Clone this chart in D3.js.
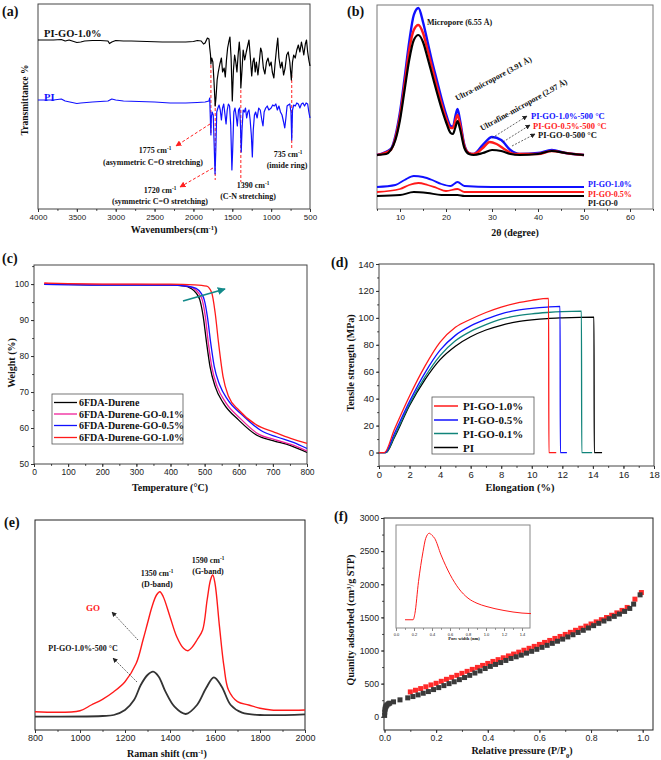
<!DOCTYPE html>
<html><head><meta charset="utf-8">
<script src="https://cdn.jsdelivr.net/npm/d3@7"></script>
<style>body{margin:0;background:#fff}svg text{font-family:'Liberation Serif','Times New Roman',serif;font-weight:bold}</style>
</head><body>
<svg id="fig" width="661" height="760"></svg>
<script>
// ---------------- (a) FTIR, transmittance a.u. ----------------
var ftirGO=[[4000,169],[3800,169],[3700,169.5],[3650,168],[3600,169],[3500,166.5],[3450,167],[3400,168],[3300,168.5],[3200,168.5],[3100,168],[3080,165.5],[3050,167],[3000,168.5],[2900,168],[2800,168],[2600,167.5],[2400,167],[2200,167],[2100,167],[2000,167.5],[1950,168.5],[1900,168],[1870,165],[1850,166],[1820,171],[1800,170],[1790,161],[1780,154],[1775,145],[1765,151],[1750,147],[1735,127],[1720,103],[1710,111],[1695,129],[1680,137],[1660,145],[1640,151],[1625,137],[1605,141],[1590,132],[1575,149],[1560,161],[1545,167],[1530,172],[1515,151],[1500,108],[1485,139],[1470,154],[1455,147],[1440,137],[1425,154],[1410,167],[1400,157],[1390,121],[1375,139],[1360,159],[1340,149],[1320,157],[1300,164],[1285,169],[1270,154],[1250,133],[1235,147],[1220,151],[1205,137],[1190,147],[1170,134],[1150,149],[1135,161],[1120,157],[1100,141],[1080,135],[1060,147],[1040,151],[1020,143],[1000,147],[985,137],[965,131],[950,145],[930,161],[915,171],[900,151],[880,141],[860,147],[840,134],[820,141],[800,154],[780,157],[760,147],[740,129],[725,147],[710,154],[690,151],[670,159],[650,164],[630,157],[610,167],[595,161],[580,154],[560,165],[545,169],[530,157],[515,149],[500,143]];
var ftirPI=[[4000,109],[3800,109],[3700,110],[3650,108],[3500,105.5],[3450,106],[3300,107],[3100,108],[3050,110],[3000,109],[2900,108],[2700,107.5],[2500,107],[2300,106],[2100,106],[1950,106.5],[1850,107],[1800,108],[1790,111],[1785,97],[1775,74],[1770,91],[1760,97],[1745,94],[1735,69],[1722,35],[1712,59],[1700,97],[1685,101],[1670,104],[1655,99],[1640,89],[1625,101],[1610,105],[1595,95],[1580,85],[1565,99],[1550,105],[1535,103],[1520,84],[1505,39],[1495,59],[1480,97],[1465,101],[1450,93],[1435,83],[1420,99],[1405,101],[1395,84],[1385,57],[1375,79],[1360,99],[1345,97],[1330,101],[1315,91],[1300,97],[1285,99],[1270,89],[1255,74],[1242,52],[1230,79],[1215,94],[1200,97],[1180,91],[1160,101],[1140,99],[1120,89],[1105,83],[1090,97],[1070,101],[1050,103],[1030,99],[1000,101],[980,104],[960,103],[940,105],[920,99],[900,103],[880,97],[860,94],[840,87],[825,81],[810,91],[795,103],[780,104],[760,105],[745,97],[735,69],[725,99],[710,104],[690,103],[670,106],[650,105],[630,101],[610,105],[590,106],[570,103],[550,106],[530,105],[515,97],[500,91]];
var ftirMarks=[[1775,144,76],[1720,106,29],[1390,119,27],[735,134,61]];

// ---------------- (b) XRD, intensity a.u. ----------------
var xrdGO10c=[[5,54],[8,60],[9,73],[10,97],[11,131],[12,167],[13,194],[14,201],[15,187],[16,167],[17,147],[18,129],[19,111],[20,95],[21,83],[21.5,82],[22,92],[22.5,100],[23,90],[24,64],[25,56],[26,55],[28,64],[30,72],[32,69],[34,59],[36,55],[40,56],[43,59],[46,56],[50,54]];
var xrdGO05c=[[5,54],[8,59],[9,71],[10,93],[11,125],[12,159],[13,179],[14,184],[15,176],[16,159],[17,141],[18,123],[19,106],[20,91],[21,81],[21.5,81],[22,88],[22.5,94],[23,86],[24,63],[25,56],[26,55],[28,61],[29.5,67],[31,65],[33,59],[35,55],[40,55],[43,58],[46,56],[50,54]];
var xrdGO0c=[[5,54],[7,55],[8,59],[9,69],[10,89],[11,119],[12,149],[13,169],[14,174],[15,167],[16,151],[17,134],[18,117],[19,101],[20,87],[21,76],[21.5,75],[22,81],[22.5,88],[23,81],[24,61],[25,55],[26,54],[28,56],[30,59],[32,58],[34,55],[36,54],[40,55],[43,58],[46,56],[50,54]];
var xrdGO10=[[5,22],[9,24],[11,29],[13,33],[15,32],[17,29],[19,25],[21,23],[22.5,27],[24,23],[30,22],[50,22]];
var xrdGO05=[[5,17],[10,20],[12,24],[14,26],[16,24],[18,21],[20,18],[22.5,20],[24,17],[50,17]];
var xrdGO0=[[5,13],[10,14],[13,17],[16,16],[19,14],[22.5,14],[24,13],[50,13]];

// ---------------- (c) TGA ----------------
var tgaNames=['6FDA-Durene','6FDA-Durene-GO-0.1%','6FDA-Durene-GO-0.5%','6FDA-Durene-GO-1.0%'];
var tgaColors=['#000000','#f0209a','#1010ff','#ff1a1a'];
var tga0=[[30,100],[100,99.9],[200,99.8],[300,99.8],[400,99.7],[437,99.5],[460,98.8],[476,97.4],[486,95.6],[496,90.9],[506,83.5],[516,77],[531,71.5],[555,66.9],[600,62.2],[653,58],[700,56.5],[752,55.1],[800,53.2]];
var tga01=[[30,100.1],[100,100],[200,99.9],[300,99.9],[400,99.8],[445,99.5],[468,98.8],[483,97.4],[493,95.6],[502,91],[511,83.5],[521,77],[537,71.5],[561,67.2],[605,62.6],[658,58.3],[705,56.8],[755,55.4],[800,53.6]];
var tga05=[[30,99.9],[100,99.8],[200,99.7],[300,99.7],[400,99.7],[450,99.4],[475,98.8],[490,97.4],[499,95.6],[508,91],[518,83.5],[528,77.2],[544,72],[568,67.8],[612,63.5],[665,59.3],[712,57.5],[760,56],[800,54.3]];
var tga10=[[30,100.3],[100,100.1],[200,100],[300,100],[400,100],[470,99.8],[506,99.4],[521,97.5],[531,91.9],[541,83.5],[554,74.3],[570,68.8],[600,65],[653,60.8],[700,59],[752,57.1],[800,55.7]];

// ---------------- (d) tensile ----------------
var tenNames=['PI-GO-1.0%','PI-GO-0.5%','PI-GO-0.1%','PI'];
var tenColors=['#ff1a1a','#1010ff','#11847a','#000000'];
var ten10=[[0,0],[0.35,0],[1,17],[2,42],[3,64],[4,82],[5,93],[6,99],[7,104],[8,108],[9,111],[10,113],[11.1,114.5],[11.12,0],[11.6,0]];
var ten05=[[0,0],[0.4,0],[1,14],[2,38],[3,59],[4,76],[5,87],[6,94],[7,99],[8,103],[9,105.5],[10,107],[11,108],[11.85,108.5],[11.87,0],[12.3,0]];
var ten01=[[0,0],[0.45,0],[1,12],[2,36],[3,56],[4,72],[5,83],[6,90],[7,95],[8,99],[9,101.5],[10,103],[11,104],[12,104.7],[13.25,105],[13.27,0],[13.95,0]];
var tenPI=[[0,0],[0.45,0],[1,11],[2,35],[3,54],[4,69],[5,79],[6,86],[7,91],[8,94.5],[9,97],[10,98.5],[11,99.5],[12,100],[14.07,100.5],[14.09,0],[14.6,0]];

// ---------------- (e) Raman, intensity a.u. ----------------
var ramanGO=[[800,18.3],[1000,19.3],[1050,25],[1100,30.7],[1150,38.3],[1200,48.3],[1250,66.7],[1280,90],[1300,106.7],[1320,123.3],[1340,135],[1355,138.3],[1370,133.3],[1400,113.3],[1430,93.3],[1460,81.7],[1480,79.3],[1500,83.3],[1520,90],[1545,100],[1565,130],[1580,150],[1590,155],[1600,146.7],[1620,103.3],[1640,63.3],[1660,40],[1700,28.3],[1750,25],[1800,21.7],[1850,20],[2000,20]];
var ramanPIGO=[[800,13.3],[1100,14],[1150,15],[1200,20],[1240,30],[1270,45],[1300,55],[1325,58.3],[1350,53.3],[1380,38.3],[1420,23.3],[1470,16],[1520,25],[1560,41.7],[1595,52.7],[1630,43.3],[1670,25],[1720,17.3],[1800,15],[2000,15.7]];

// ---------------- (f) N2 isotherm ----------------
var isoAds=[[0.0005,20],[0.001,70],[0.002,105],[0.003,130],[0.005,150],[0.007,165],[0.01,180],[0.015,195],[0.02,205],[0.035,225],[0.06,255],[0.09,285],[0.11,305],[0.13,330],[0.15,355],[0.17,380],[0.19,410],[0.21,440],[0.23,470],[0.25,500],[0.27,528],[0.29,560],[0.31,592],[0.33,625],[0.35,660],[0.37,692],[0.39,728],[0.41,760],[0.43,790],[0.45,818],[0.47,850],[0.49,880],[0.51,905],[0.53,930],[0.55,960],[0.57,988],[0.59,1018],[0.61,1048],[0.63,1078],[0.65,1108],[0.67,1140],[0.69,1172],[0.71,1205],[0.73,1238],[0.75,1272],[0.77,1305],[0.79,1340],[0.81,1375],[0.83,1410],[0.85,1445],[0.87,1480],[0.89,1515],[0.91,1550],[0.93,1590],[0.95,1635],[0.965,1700],[0.99,1840]];
var isoDes=[[0.1,375],[0.12,400],[0.14,425],[0.16,452],[0.18,480],[0.2,505],[0.22,535],[0.24,565],[0.26,595],[0.28,625],[0.3,655],[0.32,685],[0.34,715],[0.36,745],[0.38,775],[0.4,805],[0.42,835],[0.44,862],[0.46,890],[0.48,918],[0.5,946],[0.52,975],[0.54,1004],[0.56,1033],[0.58,1062],[0.6,1092],[0.62,1122],[0.64,1152],[0.66,1182],[0.68,1212],[0.7,1243],[0.72,1274],[0.74,1305],[0.76,1336],[0.78,1368],[0.8,1400],[0.82,1432],[0.84,1465],[0.86,1498],[0.88,1532],[0.9,1568],[0.92,1605],[0.94,1650],[0.97,1775],[0.995,1875]];
var poreDist=[[0.1,0.08],[0.19,0.08],[0.21,0.14],[0.25,0.45],[0.3,0.74],[0.33,0.87],[0.37,0.92],[0.4,0.9],[0.43,0.87],[0.5,0.71],[0.6,0.52],[0.7,0.38],[0.8,0.29],[0.9,0.24],[1.0,0.21],[1.2,0.17],[1.4,0.145],[1.5,0.14]];

var svg=d3.select('#fig');
var defs=svg.append('defs');
function marker(id,color,w){
	defs.append('marker').attr('id',id).attr('viewBox','0 0 10 10').attr('refX',9).attr('refY',5)
		.attr('markerWidth',w).attr('markerHeight',w).attr('markerUnits','userSpaceOnUse').attr('orient','auto')
		.append('path').attr('d','M0,0L10,5L0,10z').attr('fill',color);
}
marker('arRed','#ff2020',6);
marker('arBlk','#222',5);
marker('arTeal','#138a8a',8);

function none(){return ''}
// frame + bottom/left axes
function axes(p){
	var g=svg.append('g');
	g.append('rect').attr('x',p.l).attr('y',p.t).attr('width',p.r-p.l).attr('height',p.b-p.t)
		.attr('fill','none').attr('stroke',p.frame||'#333').attr('stroke-width',1);
	g.append('g').attr('transform','translate(0,'+p.b+')')
		.call(d3.axisBottom(p.x).tickValues(p.xMaj).tickFormat(p.xFmt||d3.format('')).tickSize(3).tickPadding(2));
	if(p.xMin) g.append('g').attr('transform','translate(0,'+p.b+')')
		.call(d3.axisBottom(p.x).tickValues(p.xMin).tickFormat(none).tickSize(1.8));
	if(p.yMaj){
		g.append('g').attr('transform','translate('+p.l+',0)')
			.call(d3.axisLeft(p.y).tickValues(p.yMaj).tickFormat(p.yFmt||d3.format('')).tickSize(3).tickPadding(2));
		if(p.yMin) g.append('g').attr('transform','translate('+p.l+',0)')
			.call(d3.axisLeft(p.y).tickValues(p.yMin).tickFormat(none).tickSize(1.8));
	}
	g.selectAll('.domain').remove();
	g.selectAll('.tick line').attr('stroke','#333');
	g.selectAll('.tick text').attr('fill','#222').attr('font-size',p.fs||8.5)
		.style('font-family','"Liberation Sans",Arial,sans-serif').style('font-weight','normal');
	return g;
}
// text with optional ^sup|rest part
function txt(x,y,s,o){
	o=o||{};
	var t=svg.append('text').attr('x',x).attr('y',y).attr('font-size',o.fs||8)
		.attr('fill',o.fill||'#111').attr('text-anchor',o.anchor||'start');
	if(o.rot) t.attr('transform','rotate('+o.rot+','+x+','+y+')');
	var parts=s.split('^');
	t.append('tspan').text(parts[0]);
	if(parts.length>1){
		var sp=parts[1].split('|');
		t.append('tspan').attr('baseline-shift',o.sub?'sub':'super').attr('font-size',(o.fs||8)*0.65).text(sp[0]);
		if(sp[1]) t.append('tspan').text(sp[1]);
	}
	return t;
}
function arrow(x1,y1,x2,y2,color,mk,dash,w){
	svg.append('line').attr('x1',x1).attr('y1',y1).attr('x2',x2).attr('y2',y2)
		.attr('stroke',color).attr('stroke-width',w||0.8).attr('stroke-dasharray',dash||null)
		.attr('marker-end','url(#'+mk+')');
}
function path(data,xs,ys,color,w,curve){
	svg.append('path').datum(data).attr('fill','none').attr('stroke',color).attr('stroke-width',w)
		.attr('stroke-linejoin','round')
		.attr('d',d3.line().x(function(d){return xs(d[0])}).y(function(d){return ys(d[1])}).curve(curve||d3.curveLinear));
}

// ================= (a) =================
var aX=d3.scaleLinear().domain([4000,500]).range([38,310]);
var aY=d3.scaleLinear().domain([0,205]).range([209,4]);
axes({l:38,r:310,t:4,b:209,x:aX,xMaj:d3.range(4000,499,-500),xMin:d3.range(4000,499,-250),frame:'#444',fs:8});
ftirMarks.forEach(function(m){
	svg.append('line').attr('x1',aX(m[0])).attr('x2',aX(m[0])).attr('y1',aY(m[1])).attr('y2',aY(m[2]))
		.attr('stroke','#ff2020').attr('stroke-width',1).attr('stroke-dasharray','3,2');
});
path(ftirGO,aX,aY,'#000',1.2);
path(ftirPI,aX,aY,'#1010ff',1.2);
arrow(210,124,176,146,'#ff2020','arRed','3,2',1);
arrow(213,168,180,187,'#ff2020','arRed','3,2',1);
txt(44,37,'PI-GO-1.0%',{fs:10.5});
txt(44,101,'PI',{fs:10.5,fill:'#1010ff'});
txt(155,153,'1775 cm^-1',{fs:8,anchor:'middle'});
txt(153,165,'(asymmetric C=O stretching)',{fs:8,anchor:'middle'});
txt(160,193,'1720 cm^-1',{fs:8,anchor:'middle'});
txt(160,204,'(symmetric  C=O stretching)',{fs:8,anchor:'middle'});
txt(253,188,'1390 cm^-1',{fs:8,anchor:'middle'});
txt(248,199,'(C-N stretching)',{fs:8,anchor:'middle'});
txt(288,157,'735 cm^-1',{fs:8,anchor:'middle'});
txt(287,168,'(imide ring)',{fs:8,anchor:'middle'});
txt(174,233,'Wavenumbers(cm^-1|)',{fs:10,anchor:'middle'});
txt(28,100,'Transmittance %',{fs:9.5,anchor:'middle',rot:-90});
txt(2,16,'(a)',{fs:14});

// ================= (b) =================
var bX=d3.scaleLinear().domain([5,65]).range([377,653]);
var bY=d3.scaleLinear().domain([0,204]).range([209,5]);
axes({l:377,r:653,t:5,b:209,x:bX,xMaj:d3.range(10,61,10),xMin:d3.range(5,66,5),frame:'#777',fs:8});
path(xrdGO10c,bX,bY,'#1010ff',2.4,d3.curveMonotoneX);
path(xrdGO05c,bX,bY,'#ff1a1a',2.4,d3.curveMonotoneX);
path(xrdGO0c,bX,bY,'#000',2.2,d3.curveMonotoneX);
path(xrdGO10,bX,bY,'#1010ff',1.8,d3.curveMonotoneX);
path(xrdGO05,bX,bY,'#ff1a1a',1.8,d3.curveMonotoneX);
path(xrdGO0,bX,bY,'#000',1.8,d3.curveMonotoneX);
txt(427,25,'Micropore (6.55 Å)',{fs:8});
txt(457,101,'Ultra-micropore (3.91 Å)',{fs:8,rot:-28});
txt(482,131,'Ultrafine-micropore (2.97 Å)',{fs:8,rot:-29});
arrow(492,138,527,116,'#222','arBlk','2,1.5',0.7);
arrow(503,142,530,125,'#222','arBlk','2,1.5',0.7);
arrow(512,146,535,134,'#222','arBlk','2,1.5',0.7);
txt(531,119,'PI-GO-1.0%-500 °C',{fs:8.5,fill:'#1010ff'});
txt(533,129,'PI-GO-0.5%-500 °C',{fs:8.5,fill:'#ff1a1a'});
txt(538,138,'PI-GO-0-500 °C',{fs:8.5});
txt(588,187,'PI-GO-1.0%',{fs:8,fill:'#1010ff'});
txt(588,197,'PI-GO-0.5%',{fs:8,fill:'#ff1a1a'});
txt(588,206,'PI-GO-0',{fs:8});
txt(515,236,'2θ (degree)',{fs:10,anchor:'middle'});
txt(347,16,'(b)',{fs:14});

// ================= (c) =================
var cX=d3.scaleLinear().domain([0,800]).range([34,307]);
var cY=d3.scaleLinear().domain([50,105.3]).range([464,265]);
axes({l:34,r:307,t:265,b:464,x:cX,xMaj:d3.range(0,801,100),xMin:d3.range(0,801,50),
	y:cY,yMaj:d3.range(50,101,10),yMin:d3.range(50,106,5),frame:'#444',fs:8.5});
[tga0,tga01,tga05,tga10].forEach(function(s,i){path(s,cX,cY,tgaColors[i],1.3,d3.curveMonotoneX)});
arrow(183,301,225,289,'#138a8a','arTeal',null,1.8);
svg.append('rect').attr('x',52).attr('y',394).attr('width',131).attr('height',50)
	.attr('fill','#fff').attr('stroke','#555').attr('stroke-width',0.8);
tgaNames.forEach(function(n,i){
	var yy=[402.5,414,425.5,437.5][i];
	svg.append('line').attr('x1',54).attr('x2',77).attr('y1',yy).attr('y2',yy).attr('stroke',tgaColors[i]).attr('stroke-width',1.3);
	txt(79,yy+3.5,n,{fs:10});
});
txt(170,491,'Temperature (°C)',{fs:10,anchor:'middle'});
txt(15,363,'Weight (%)',{fs:10,anchor:'middle',rot:-90});
txt(2,263,'(c)',{fs:14});

// ================= (d) =================
var dX=d3.scaleLinear().domain([0,18]).range([379,654]);
var dY=d3.scaleLinear().domain([-10,140]).range([466,264]);
axes({l:379,r:654,t:264,b:466,x:dX,xMaj:d3.range(0,19,2),xMin:d3.range(0,19,1),
	y:dY,yMaj:d3.range(0,141,20),yMin:d3.range(-10,141,10),frame:'#444',fs:9.5});
path(tenPI,dX,dY,tenColors[3],1.3,d3.curveMonotoneX);
path(ten01,dX,dY,tenColors[2],1.3,d3.curveMonotoneX);
path(ten05,dX,dY,tenColors[1],1.3,d3.curveMonotoneX);
path(ten10,dX,dY,tenColors[0],1.3,d3.curveMonotoneX);
svg.append('rect').attr('x',432).attr('y',397).attr('width',102).attr('height',57)
	.attr('fill','#fff').attr('stroke','#555').attr('stroke-width',0.8);
tenNames.forEach(function(n,i){
	var yy=[406,420,433.5,447.5][i];
	svg.append('line').attr('x1',434).attr('x2',458).attr('y1',yy).attr('y2',yy).attr('stroke',tenColors[i]).attr('stroke-width',1.5);
	txt(463,yy+4,n,{fs:11});
});
txt(520,491,'Elongation (%)',{fs:10.5,anchor:'middle'});
txt(354,363,'Tensile strength (MPa)',{fs:10,anchor:'middle',rot:-90});
txt(331,267,'(d)',{fs:14});

// ================= (e) =================
var eX=d3.scaleLinear().domain([800,2000]).range([35,305]);
var eY=d3.scaleLinear().domain([0,210]).range([730,520]);
axes({l:35,r:305,t:520,b:730,x:eX,xMaj:d3.range(800,2001,200),xMin:d3.range(800,2001,100),frame:'#222',fs:9});
path(ramanGO,eX,eY,'#ff1a1a',1.4,d3.curveCatmullRom);
path(ramanPIGO,eX,eY,'#333',1.8,d3.curveCatmullRom);
txt(157,576,'1350 cm^-1',{fs:8,anchor:'middle'});
txt(157,587,'(D-band)',{fs:8,anchor:'middle'});
txt(208,563,'1590 cm^-1',{fs:8,anchor:'middle'});
txt(208,574,'(G-band)',{fs:8,anchor:'middle'});
txt(93,611,'GO',{fs:9,anchor:'middle',fill:'#ff1a1a'});
txt(83,651,'PI-GO-1.0%-500 °C',{fs:8,anchor:'middle'});
arrow(138,640,112,612,'#222','arBlk','1.5,1',0.7);
arrow(137,682,113,658,'#222','arBlk','1.5,1',0.7);
txt(167,757,'Raman shift (cm^-1|)',{fs:10,anchor:'middle'});
txt(4,527,'(e)',{fs:14});

// ================= (f) =================
var fX=d3.scaleLinear().domain([0,1.04]).range([384.5,653]);
var fY=d3.scaleLinear().domain([-200,3000]).range([730,518]);
axes({l:384,r:653,t:518,b:730,x:fX,xMaj:d3.range(0,1.01,0.2),xFmt:d3.format('.1f'),xMin:d3.range(0,1.04,0.1),
	y:fY,yMaj:d3.range(0,3001,500),yMin:d3.range(0,3001,250),frame:'#222',fs:8.7});
svg.append('g').selectAll('rect').data(isoDes).enter().append('rect')
	.attr('x',function(d){return fX(d[0])-2.5}).attr('y',function(d){return fY(d[1])-2.5})
	.attr('width',5).attr('height',5).attr('fill','#ff2a2a');
svg.append('g').selectAll('rect').data(isoAds).enter().append('rect')
	.attr('x',function(d){return fX(d[0])-2.5}).attr('y',function(d){return fY(d[1])-2.5})
	.attr('width',5).attr('height',5).attr('fill','#3a3a3a');
// inset: pore size distribution
var iX=d3.scaleLinear().domain([0,1.5]).range([396,531]);
var iY=d3.scaleLinear().domain([0,1]).range([628,525]);
var ig=axes({l:396,r:530,t:525,b:628,x:iX,xMaj:d3.range(0,1.41,0.2),xFmt:d3.format('.1f'),xMin:d3.range(0,1.5,0.1),frame:'#888',fs:4});
ig.selectAll('.tick line').attr('stroke','#888');
path(poreDist,iX,iY,'#ff1a1a',1,d3.curveMonotoneX);
txt(464,640,'Pore width (nm)',{fs:4.5,anchor:'middle'});
txt(522,754,'Relative pressure (P/P^0|)',{fs:10,anchor:'middle',sub:true});
txt(354,620,'Quanity adsorbed (cm^3|/g STP)',{fs:10,anchor:'middle',rot:-90});
txt(334,521,'(f)',{fs:14});
</script>
</body></html>
